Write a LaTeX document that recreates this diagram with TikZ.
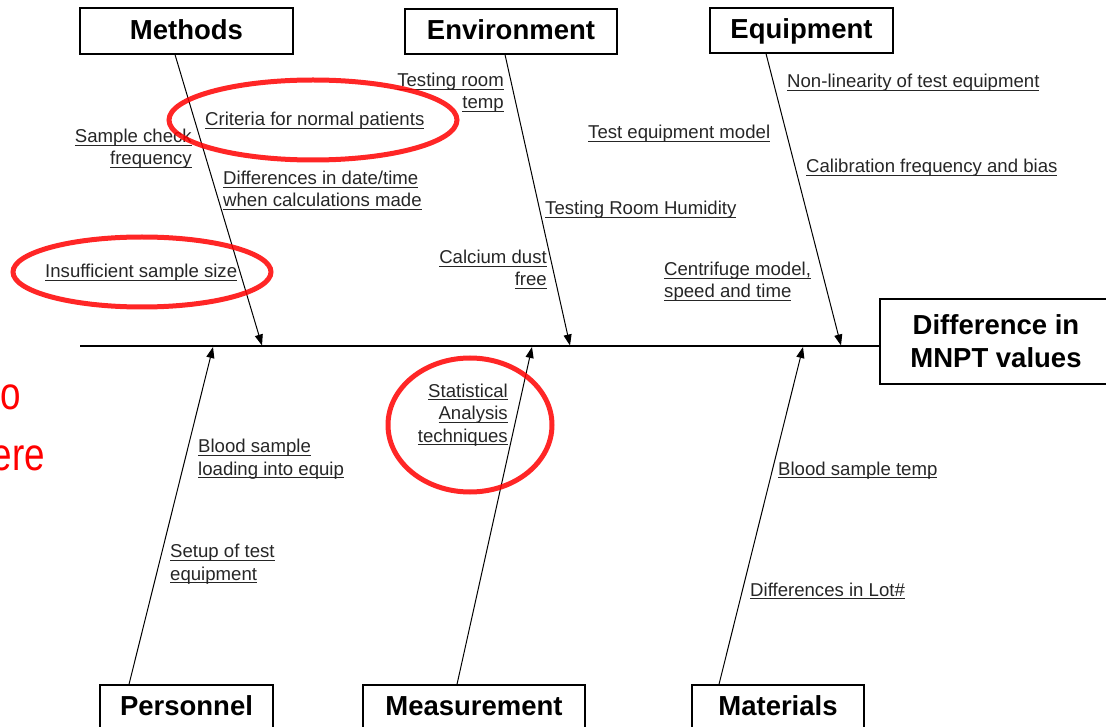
\documentclass[tikz,border=0pt]{standalone}
\usepackage{fontspec}
\setmainfont{Liberation Sans}
\usetikzlibrary{arrows.meta}
\newcommand\ulx[1]{\setbox0\hbox{#1}\rlap{\rule[-3pt]{\wd0}{0.9pt}}\box0}
\begin{document}
\begin{tikzpicture}[x=1pt,y=-1pt,
  catbox/.style={draw, line width=1.2pt, font=\fontsize{27.5}{32}\selectfont\bfseries, inner sep=0pt,
                 text height=22pt, text depth=5pt},
  bonearrow/.style={line width=1pt, -{Triangle[length=11pt,width=8pt]}},
  lab/.style={inner sep=0pt, font=\fontsize{18.6}{22.5}\selectfont, text=black!85},
  labL/.style={lab, anchor=base west, align=left},
  labR/.style={lab, anchor=base east, align=right},
  redring/.style={draw=red, line width=5pt, opacity=0.85},
  redtext/.style={text=red, font=\fontsize{46}{50}\selectfont, inner sep=0pt, anchor=base east}]
\useasboundingbox (0,0) rectangle (1106,727);

% category boxes
\node[catbox, minimum width=213pt, minimum height=46pt] (meth) at (186.5,31) {Methods};
\node[catbox, minimum width=212pt, minimum height=45pt] (env) at (511,31.5) {Environment};
\node[catbox, minimum width=183pt, minimum height=45pt] (equ) at (801.5,30.5) {Equipment};
\node[catbox, minimum width=173pt, minimum height=44pt] (pers) at (186.5,707) {Personnel};
\node[catbox, minimum width=222pt, minimum height=44pt] (meas) at (474,707) {Measurement};
\node[catbox, minimum width=172pt, minimum height=44pt] (mat) at (778,707) {Materials};
\node[draw, line width=1.2pt, inner sep=0pt, minimum width=232pt, minimum height=85pt, align=center,
      font=\fontsize{27.5}{33}\selectfont\bfseries] (eff) at (996,341.5) {Difference in\\MNPT values};

% spine
\coordinate (spL) at (80,346);
\draw[line width=1.3pt] (spL) -- (spL -| eff.west);

% arrow ends on the spine
\coordinate (mA) at (262,345.5);
\coordinate (eA) at (570,345.5);
\coordinate (qA) at (841,345.5);
\coordinate (pA) at (213,347);
\coordinate (sA) at (532,347);
\coordinate (tA) at (803,347);

\draw[bonearrow] ([xshift=-11.5pt]meth.south) -- (mA);
\draw[bonearrow] ([xshift=-6pt]env.south) -- (eA);
\draw[bonearrow] ([xshift=-35.5pt]equ.south) -- (qA);
\draw[bonearrow] ([xshift=-57.5pt]pers.north) -- (pA);
\draw[bonearrow] ([xshift=-17pt]meas.north) -- (sA);
\draw[bonearrow] ([xshift=-59pt]mat.north) -- (tA);

% cause labels (base anchor = baseline of the last line)
\node[labR] (l1) at (192,165) {\ulx{Sample check}\\\ulx{frequency}};
\node[labL] (l2) at (205,126) {\ulx{Criteria for normal patients}};
\node[labL] (l3) at (223,207) {\ulx{Differences in date/time}\\\ulx{when calculations made}};
\node[labL] (l4) at (45,278) {\ulx{Insufficient sample size}};
\node[labR] (l5) at (504,109) {\ulx{Testing room}\\\ulx{temp}};
\node[labR] (l6) at (547,286) {\ulx{Calcium dust}\\\ulx{free}};
\node[labL] (l7) at (545,215) {\ulx{Testing Room Humidity}};
\node[labL] (l8) at (588,139) {\ulx{Test equipment model}};
\node[labL] (l9) at (664,298) {\ulx{Centrifuge model,}\\\ulx{speed and time}};
\node[labL] (l10) at (787,88) {\ulx{Non-linearity of test equipment}};
\node[labL] (l11) at (806,173) {\ulx{Calibration frequency and bias}};
\node[labL] (l12) at (198,475) {\ulx{Blood sample}\\\ulx{loading into equip}};
\node[labL] (l13) at (170,580) {\ulx{Setup of test}\\\ulx{equipment}};
\node[labR] (l14) at (508,442) {\ulx{Statistical}\\\ulx{Analysis}\\\ulx{techniques}};
\node[labL] (l15) at (778,475) {\ulx{Blood sample temp}};
\node[labL] (l16) at (750,596) {\ulx{Differences in Lot\#}};

% red annotations
\draw[redring] (313,120) ellipse [x radius=144pt, y radius=40pt];
\draw[redring] (142,272) ellipse [x radius=129pt, y radius=35pt];
\draw[redring] (470,425) ellipse [x radius=82pt, y radius=67pt];
\node[redtext] (r1) at (21,409) {\scalebox{0.8}[1]{o}};
\node[redtext] (r2) at (45,470) {\scalebox{0.8}[1]{ere}};
\end{tikzpicture}
\end{document}
